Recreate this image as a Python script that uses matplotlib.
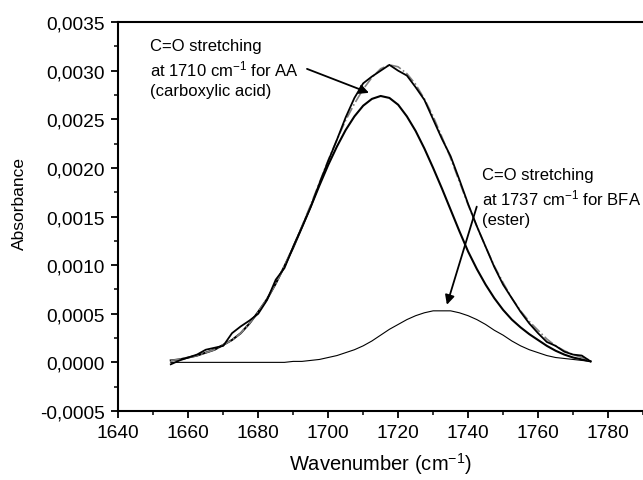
import matplotlib
matplotlib.use("Agg")
import matplotlib.pyplot as plt
from matplotlib.ticker import MultipleLocator, FuncFormatter

plt.rcParams['font.family'] = ['Liberation Sans', 'DejaVu Sans']
plt.rcParams['mathtext.fontset'] = 'custom'
plt.rcParams['mathtext.rm'] = 'Liberation Sans'
plt.rcParams['mathtext.it'] = 'Liberation Sans'

# wavenumbers (cm-1)
wavenumber = [1655, 1657.5, 1660, 1662.5, 1665, 1667.5, 1670, 1672.5, 1675, 1677.5,
              1680, 1682.5, 1685, 1687.5, 1690, 1692.5, 1695, 1697.5, 1700, 1702.5,
              1705, 1707.5, 1710, 1712.5, 1715, 1717.5, 1720, 1722.5, 1725, 1727.5,
              1730, 1732.5, 1735, 1737.5, 1740, 1742.5, 1745, 1747.5, 1750, 1752.5,
              1755, 1757.5, 1760, 1762.5, 1765, 1767.5, 1770, 1772.5, 1775]

# measured spectrum
measured = [-0.00002, 0.00002, 0.00005, 0.00008, 0.00013, 0.00015, 0.00017, 0.00030, 0.00037, 0.00043,
            0.00050, 0.00064, 0.00085, 0.00097, 0.00119, 0.00139, 0.00160, 0.00184, 0.00207, 0.00229,
            0.00252, 0.00272, 0.00287, 0.00294, 0.00300, 0.00306, 0.00300, 0.00295, 0.00283, 0.00270,
            0.00250, 0.00230, 0.00212, 0.00188, 0.00163, 0.00140, 0.00119, 0.00098, 0.00080, 0.00066,
            0.00052, 0.00040, 0.00030, 0.00021, 0.00017, 0.00011, 0.00008, 0.00007, 0.00001]

# fitted envelope
fitted = [0.00002, 0.00003, 0.00005, 0.00007, 0.00010, 0.00013, 0.00018, 0.00023, 0.00030, 0.00040,
          0.00052, 0.00065, 0.00081, 0.00099, 0.00119, 0.00140, 0.00162, 0.00185, 0.00208, 0.00229,
          0.00249, 0.00266, 0.00281, 0.00293, 0.00302, 0.00306, 0.00304, 0.00297, 0.00286, 0.00271,
          0.00253, 0.00232, 0.00210, 0.00186, 0.00162, 0.00140, 0.00119, 0.00099, 0.00082, 0.00066,
          0.00053, 0.00042, 0.00033, 0.00024, 0.00017, 0.00012, 0.00008, 0.00005, 0.00002]

# AA component (carboxylic acid)
aa_band = [0.00002, 0.00003, 0.00005, 0.00007, 0.00010, 0.00013, 0.00018, 0.00023, 0.00030, 0.00040,
           0.00052, 0.00065, 0.00081, 0.00099, 0.00118, 0.00139, 0.00160, 0.00182, 0.00203, 0.00222,
           0.00239, 0.00253, 0.00264, 0.00271, 0.00274, 0.00272, 0.00265, 0.00253, 0.00238, 0.00220,
           0.00200, 0.00179, 0.00157, 0.00135, 0.00114, 0.00096, 0.00080, 0.00066, 0.00054, 0.00044,
           0.00036, 0.00029, 0.00023, 0.00017, 0.00012, 0.00008, 0.00005, 0.00003, 0.00001]

# BFA component (ester)
bfa_band = [0.0, 0.0, 0.0, 0.0, 0.0, 0.0, 0.0, 0.0, 0.0, 0.0,
            0.0, 0.0, 0.0, 0.0, 0.00001, 0.00001, 0.00002, 0.00003, 0.00005, 0.00007,
            0.00010, 0.00013, 0.00017, 0.00022, 0.00028, 0.00034, 0.00039, 0.00044, 0.00048, 0.00051,
            0.00053, 0.00053, 0.00053, 0.00051, 0.00048, 0.00044, 0.00039, 0.00033, 0.00028, 0.00022,
            0.00017, 0.00013, 0.00010, 0.00007, 0.00005, 0.00004, 0.00003, 0.00002, 0.00001]

fig = plt.figure(figsize=(6.43, 4.81), dpi=100)
ax = fig.add_axes([0.184, 0.1435, 0.816, 0.8085])

ax.plot(wavenumber, bfa_band, color='black', lw=0.8)
ax.plot(wavenumber, aa_band, color='black', lw=1.5)
ax.plot(wavenumber, fitted, color='#808080', lw=1.2, ls='-.')
ax.plot(wavenumber, measured, color='black', lw=1.3)

ax.set_xlim(1640, 1790)
ax.set_ylim(-0.0005, 0.0035)
ax.xaxis.set_major_locator(MultipleLocator(20))
ax.xaxis.set_minor_locator(MultipleLocator(10))
ax.yaxis.set_major_locator(MultipleLocator(0.0005))
ax.yaxis.set_minor_locator(MultipleLocator(0.00025))
ax.yaxis.set_major_formatter(FuncFormatter(lambda v, p: ('%.4f' % v).replace('.', ',').replace('-0,0000', '0,0000')))

ax.spines['right'].set_visible(False)
for s in ['left', 'bottom', 'top']:
    ax.spines[s].set_linewidth(1.5)
ax.tick_params(which='major', direction='out', length=5, width=1.3, labelsize=13.8)
ax.tick_params(which='minor', direction='out', length=3, width=1.1)
ax.tick_params(axis='x', which='major', pad=4.5)
ax.tick_params(axis='y', which='major', pad=5)
ax.tick_params(top=False, which='both')

ax.set_xlabel('Wavenumber (cm$^{-1}$)', fontsize=14.5)
ax.xaxis.set_label_coords(0.5, -0.1)
ax.set_ylabel('Absorbance', fontsize=12.5)
ax.yaxis.set_label_coords(-0.174, 0.537)

ax.text(1649.0, 0.00334, 'C=O stretching\nat 1710 cm$^{-1}$ for AA\n(carboxylic acid)',
        fontsize=12, ha='left', va='top', linespacing=1.35)
ax.text(1744.1, 0.00201, 'C=O stretching\nat 1737 cm$^{-1}$ for BFA\n(ester)',
        fontsize=12, ha='left', va='top', linespacing=1.35)

ax.annotate('', xy=(1712.4, 0.002762), xytext=(1693.2, 0.003029),
            arrowprops=dict(arrowstyle='-|>', color='black', lw=1.3, mutation_scale=14))
ax.annotate('', xy=(1733.7, 0.000565), xytext=(1742.7, 0.001629),
            arrowprops=dict(arrowstyle='-|>', color='black', lw=1.3, mutation_scale=14))

fig.savefig('out.png', dpi=100)
